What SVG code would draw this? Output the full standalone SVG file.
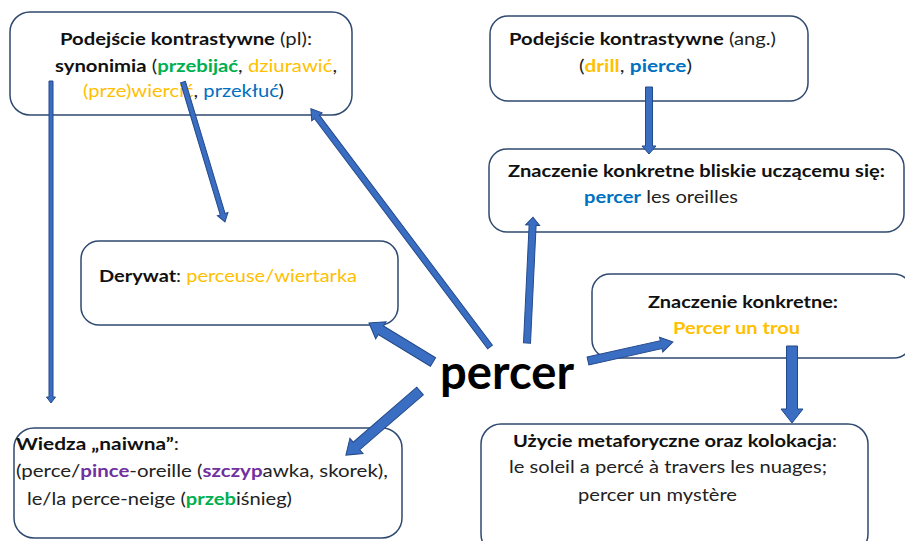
<svg xmlns="http://www.w3.org/2000/svg" width="905" height="541" viewBox="0 0 905 541">
<style>
.box{fill:none;stroke:#2f4a70;stroke-width:1.5}
text{font-family:Lato,"Liberation Sans",sans-serif;font-size:17px;fill:#222}
.b{font-weight:bold;fill:#111}
.y{fill:#ffc000}
.g{fill:#00b050}
.bl{fill:#0070c0}
.p{fill:#7030a0}
.arr{fill:#3a6ec2;stroke:#24498a;stroke-width:1}
.big{font-size:48px;font-weight:bold;fill:#000}
</style>
<rect width="905" height="541" fill="#fff"/>
<g id="n-pl">
<rect class="box" x="10" y="12" width="342" height="103" rx="20"/>
<text x="60" y="45" textLength="252" lengthAdjust="spacingAndGlyphs"><tspan class="b">Podejście kontrastywne</tspan> (pl):</text>
<text x="55" y="72" textLength="282" lengthAdjust="spacingAndGlyphs"><tspan class="b">synonimia</tspan> (<tspan class="b g">przebijać</tspan>, <tspan class="y">dziurawić</tspan>,</text>
<text x="83" y="97" textLength="201" lengthAdjust="spacingAndGlyphs"><tspan class="y">(prze)wiercić</tspan>, <tspan class="bl">przekłuć</tspan>)</text>
</g>
<g id="n-ang">
<rect class="box" x="490" y="16" width="318" height="85" rx="18"/>
<text x="509" y="45" textLength="267" lengthAdjust="spacingAndGlyphs"><tspan class="b">Podejście kontrastywne</tspan> (ang.)</text>
<text x="579" y="72" textLength="113" lengthAdjust="spacingAndGlyphs">(<tspan class="b y">drill</tspan>, <tspan class="b bl">pierce</tspan>)</text>
</g>
<g id="n-bliskie">
<rect class="box" x="489" y="149" width="415" height="83" rx="18"/>
<text x="508" y="177" class="b" textLength="377" lengthAdjust="spacingAndGlyphs">Znaczenie konkretne bliskie uczącemu się:</text>
<text x="584" y="203" textLength="154" lengthAdjust="spacingAndGlyphs"><tspan class="b bl">percer</tspan> les oreilles</text>
</g>
<g id="n-derywat">
<rect class="box" x="81" y="241" width="317" height="84" rx="18"/>
<text x="99" y="282" textLength="258" lengthAdjust="spacingAndGlyphs"><tspan class="b">Derywat</tspan>: <tspan class="y">perceuse/wiertarka</tspan></text>
</g>
<g id="n-konkretne">
<rect class="box" x="592" y="274" width="320" height="84" rx="18"/>
<text x="648" y="308" class="b" textLength="190" lengthAdjust="spacingAndGlyphs">Znaczenie konkretne:</text>
<text x="673" y="334" class="b y" textLength="127" lengthAdjust="spacingAndGlyphs">Percer un trou</text>
</g>
<g id="n-percer">
<text x="440" y="389" class="big" textLength="134" lengthAdjust="spacingAndGlyphs">percer</text>
</g>
<g id="n-wiedza">
<rect class="box" x="14" y="428" width="388" height="110" rx="20"/>
<text x="16" y="450" textLength="163" lengthAdjust="spacingAndGlyphs"><tspan class="b">Wiedza „naiwna”</tspan>:</text>
<text x="16" y="477" textLength="372" lengthAdjust="spacingAndGlyphs">(perce/<tspan class="b p">pince</tspan>-oreille (<tspan class="b p">szczyp</tspan>awka, skorek),</text>
<text x="27" y="505" textLength="265" lengthAdjust="spacingAndGlyphs">le/la perce-neige (<tspan class="b g">przeb</tspan>iśnieg)</text>
</g>
<g id="n-uzycie">
<rect class="box" x="481" y="424" width="387" height="130" rx="20"/>
<text x="513" y="447" textLength="324" lengthAdjust="spacingAndGlyphs"><tspan class="b">Użycie metaforyczne oraz kolokacja</tspan>:</text>
<text x="509" y="473" textLength="318" lengthAdjust="spacingAndGlyphs">le soleil a percé à travers les nuages;</text>
<text x="578" y="501" textLength="159" lengthAdjust="spacingAndGlyphs">percer un mystère</text>
</g>
<g id="connectors">
<path class="arr" transform="translate(490,347) rotate(233.06)" d="M0,-3 L288,-3 L288,-6.5 L298,0 L288,6.5 L288,3 L0,3 Z"/>
<path class="arr" transform="translate(183,82) rotate(73.3)" d="M0,-2.5 L138,-2.5 L138,-5.5 L146,0 L138,5.5 L138,2.5 L0,2.5 Z"/>
<path class="arr" transform="translate(51,81) rotate(90)" d="M0,-2 L316,-2 L316,-4.5 L322,0 L316,4.5 L316,2 L0,2 Z"/>
<path class="arr" transform="translate(527,343) rotate(-87.27)" d="M0,-3.5 L118,-3.5 L118,-7 L126,0 L118,7 L118,3.5 L0,3.5 Z"/>
<path class="arr" transform="translate(433,362) rotate(211.36)" d="M0,-5 L61,-5 L61,-10 L75,0 L61,10 L61,5 L0,5 Z"/>
<path class="arr" transform="translate(420,391) rotate(139.14)" d="M0,-5 L84,-5 L84,-10 L98,0 L84,10 L84,5 L0,5 Z"/>
<path class="arr" transform="translate(588,361) rotate(-12.6)" d="M0,-4 L75,-4 L75,-7.5 L87,0 L75,7.5 L75,4 L0,4 Z"/>
<path class="arr" transform="translate(792,346) rotate(90)" d="M0,-5.5 L63,-5.5 L63,-11 L77,0 L63,11 L63,5.5 L0,5.5 Z"/>
<path class="arr" transform="translate(649,87) rotate(90)" d="M0,-3.5 L59,-3.5 L59,-7 L67,0 L59,7 L59,3.5 L0,3.5 Z"/>
</g>
</svg>
